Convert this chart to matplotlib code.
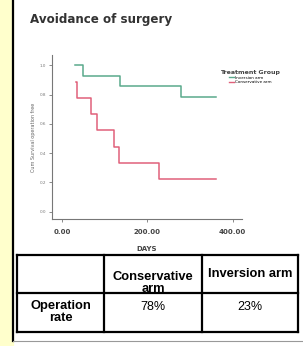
import numpy as np
import matplotlib
matplotlib.use("Agg")
import matplotlib.pyplot as plt
from matplotlib.patches import Rectangle
from matplotlib.lines import Line2D

# Kaplan-Meier style data
inv_days = [30, 49, 136, 278, 360]
inv_surv = [1.0, 0.929, 0.857, 0.786, 0.786]
con_days = [33, 35, 68, 82, 122, 133, 227, 360]
con_surv = [0.889, 0.778, 0.667, 0.556, 0.444, 0.333, 0.222, 0.222]
series_labels = ["Inversion arm", "Conservative arm"]

x_ticks = [0, 200, 400]
y_ticks = [0.0, 0.2, 0.4, 0.6, 0.8, 1.0]

# table
col_headers = ["Conservative\narm", "Inversion arm"]
row_label = "Operation\nrate"
rates = ["78%", "23%"]

green = "#5aaa8c"
red = "#e0607a"
W, H = 303, 346

fig = plt.figure(figsize=(W / 100, H / 100), dpi=100)
fig.patch.set_facecolor("white")

# overlay axes in pixel coordinates for frame + table
bg = fig.add_axes([0, 0, 1, 1])
bg.set_xlim(0, W)
bg.set_ylim(H, 0)
bg.axis("off")
bg.add_patch(Rectangle((0, 0), 13, H, color="#ffffcc", zorder=0))
bg.plot([13, 13], [0, 341], color="black", lw=1.6, zorder=2)
bg.plot([13, W], [341, 341], color="#999999", lw=0.8, zorder=2)

bg.text(30, 23, "Avoidance of surgery", fontsize=8.6, fontweight="bold",
        color="#333333", family="DejaVu Sans")

# table grid
tl, tr, tt, tm, tb = 17, 298, 255, 293, 332
cx = [104, 202]
for y in [tt, tm, tb]:
    bg.plot([tl, tr], [y, y], color="black", lw=1.6, zorder=5)
for x in [tl] + cx + [tr]:
    bg.plot([x, x], [tt, tb], color="black", lw=1.6, zorder=5)
col_centers = [(cx[0] + cx[1]) / 2, (cx[1] + tr) / 2]
bg.text(col_centers[0], 283, col_headers[0], ha="center", va="center",
        fontsize=9.3, fontweight="bold", family="Liberation Sans", linespacing=1.05)
bg.text(col_centers[1], 274, col_headers[1], ha="center", va="center",
        fontsize=9.3, fontweight="bold", family="Liberation Sans")
bg.text((tl + cx[0]) / 2, 312, row_label, ha="center", va="center",
        fontsize=9.3, fontweight="bold", family="Liberation Sans", linespacing=1.0)
for c, r in zip(col_centers, rates):
    bg.text(c, 307, r, ha="center", va="center", fontsize=9,
            family="Liberation Sans")

# survival plot
ax = fig.add_axes([52 / W, (H - 219) / H, (242 - 52) / W, (219 - 55) / H])
ax.set_facecolor("none")
ax.step(inv_days, inv_surv, where="post", color=green, lw=1.1)
ax.step(con_days, con_surv, where="post", color=red, lw=1.1)
ax.set_xlim(-23, 422)
ax.set_ylim(-0.05, 1.07)
for s in ["top", "right"]:
    ax.spines[s].set_visible(False)
for s in ["left", "bottom"]:
    ax.spines[s].set_color("#777777")
    ax.spines[s].set_linewidth(0.8)
ax.set_xticks(x_ticks)
ax.set_xticklabels([f"{v:.2f}" for v in x_ticks], fontsize=5, fontweight="bold",
                   color="#444444")
ax.set_yticks(y_ticks)
ax.set_yticklabels([f"{v:.1f}" for v in y_ticks], fontsize=3, color="#777777")
ax.tick_params(length=2, width=0.6, color="#777777", pad=2)
ax.tick_params(axis="x", pad=5)
ax.set_xlabel("DAYS", fontsize=5, fontweight="bold", color="#444444", labelpad=8)
ax.set_ylabel("Cum Survival operation free", fontsize=3.5, color="#666666", labelpad=3)

handles = [Line2D([], [], color=green, lw=1), Line2D([], [], color=red, lw=1)]
leg = fig.legend(handles, series_labels, title="Treatment Group",
                 loc="upper center", bbox_to_anchor=(250 / W, 1 - 66 / H),
                 frameon=False, fontsize=3, title_fontsize=4.5,
                 handlelength=1.2, handletextpad=0.3, labelspacing=0.2)
leg.get_title().set_fontweight("bold")
leg.get_title().set_color("#444444")

fig.savefig("out.png", dpi=100)
